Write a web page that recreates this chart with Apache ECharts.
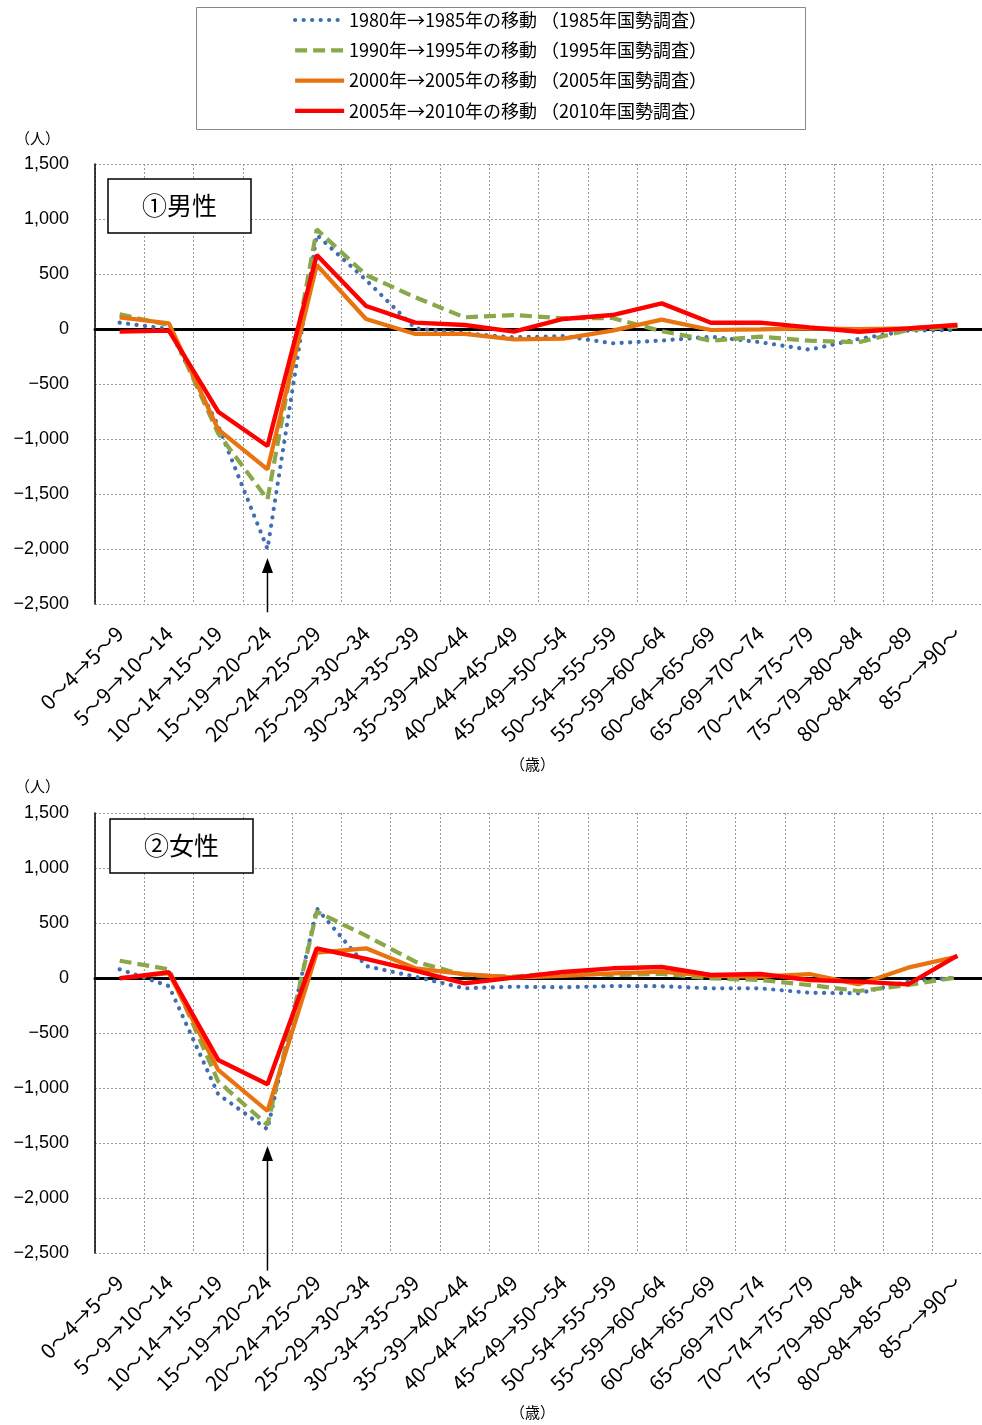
<!DOCTYPE html>
<html><head><meta charset="utf-8">
<script src="https://cdn.jsdelivr.net/npm/echarts@6/dist/echarts.min.js"></script>
<style>html,body{margin:0;padding:0;background:#fff}#c{width:982px;height:1425px}</style>
</head><body><div id="c"></div>
<script>
const categories = ["0～4→5～9","5～9→10～14","10～14→15～19","15～19→20～24","20～24→25～29","25～29→30～34","30～34→35～39","35～39→40～44","40～44→45～49","45～49→50～54","50～54→55～59","55～59→60～64","60～64→65～69","65～69→70～74","70～74→75～79","75～79→80～84","80～84→85～89","85～→90～"];
const seriesNames = ["1980年→1985年の移動 （1985年国勢調査）","1990年→1995年の移動 （1995年国勢調査）","2000年→2005年の移動 （2005年国勢調査）","2005年→2010年の移動 （2010年国勢調査）"];
const panelTitles = ["①男性","②女性"];
const yTicks = {min:-2500, max:1500, interval:500};

const male1985 = [58, 0, -880, -2000, 855, 445, 6, -39, -76, -64, -130, -105, -70, -120, -188, -90, -15, -9];
const male1995 = [133, 36, -950, -1548, 906, 491, 288, 106, 127, 97, 100, -20, -106, -70, -106, -121, -9, 21];
const male2005 = [106, 52, -912, -1276, 582, 91, -45, -45, -94, -88, -15, 85, -9, -3, 6, 0, 6, 36];
const male2010 = [-24, -15, -752, -1064, 673, 209, 58, 36, -24, 91, 127, 233, 57, 58, 15, -25, 6, 36];

const female1985 = [79, -73, -1057, -1376, 633, 109, 12, -94, -79, -85, -73, -75, -94, -94, -134, -139, -33, 6];
const female1995 = [157, 79, -940, -1336, 603, 385, 148, 27, 12, 48, 27, 38, -3, -18, -64, -118, -64, 6];
const female2005 = [0, 45, -836, -1209, 230, 270, 88, 36, 3, 18, 42, 57, 18, 12, 36, -58, 94, 195];
const female2010 = [-3, 52, -745, -966, 270, 173, 67, -48, 3, 55, 88, 100, 27, 36, -18, -33, -58, 203];

// arrow annotations: [category index, tail value, head value]
const arrowMale = [3, -2575, -2150];
const arrowFemale = [3, -2660, -1595];

const panels = [
  {data:[male1985, male1995, male2005, male2010], arrow: arrowMale},
  {data:[female1985, female1995, female2005, female2010], arrow: arrowFemale}
];

const lineStyles = [
  {color:'#3F6EB3', width:4.2, type:[0.1, 8.4], cap:'round'},
  {color:'#8AA84A', width:4.2, type:[12, 6], cap:'butt'},
  {color:'#E8730F', width:4.2, type:'solid'},
  {color:'#FF0000', width:4.4, type:'solid'}
];

const fmt = v => (v < 0 ? '\u2212' : '') + Math.abs(v).toLocaleString('en-US');
const jp = '"Noto Sans CJK JP", sans-serif';

const gridTops = [164, 813];
const grids = gridTops.map(t => ({left:95, top:t, width:895, height:440}));
const xAxes = [], yAxes = [], series = [];
gridTops.forEach((t, g) => {
  xAxes.push({
    gridIndex:g, type:'category', data:categories, boundaryGap:true, position:'bottom',
    axisLine:{show:false, onZero:false}, axisTick:{show:false},
    axisLabel:{rotate:45, margin:26, fontSize:20.5, fontFamily:jp, color:'#000', interval:0},
    splitLine:{show:true, interval:0, lineStyle:{color:'#999', width:1, type:[2,2]}}
  });
  xAxes.push({
    gridIndex:g, type:'category', data:categories, boundaryGap:true, position:'bottom',
    axisLine:{show:true, onZero:true, lineStyle:{color:'#000', width:3}},
    axisTick:{show:false}, axisLabel:{show:false}, splitLine:{show:false}
  });
  yAxes.push({
    gridIndex:g, type:'value', min:yTicks.min, max:yTicks.max, interval:yTicks.interval,
    axisLine:{show:true, lineStyle:{color:'#000', width:1.5}}, axisTick:{show:false},
    axisLabel:{formatter:fmt, fontSize:18, fontFamily:'"Liberation Sans", Arial, sans-serif', color:'#000', margin:26},
    splitLine:{show:true, lineStyle:{color:'#999', width:1, type:[2,2]}}
  });
  panels[g].data.forEach((arr, s) => {
    series.push({
      name:seriesNames[s], type:'line', xAxisIndex:g*2, yAxisIndex:g, data:arr,
      symbol:'none', showSymbol:false, lineStyle:lineStyles[s], itemStyle:{color:lineStyles[s].color},
      z:2+s, animation:false
    });
  });
  const a = panels[g].arrow;
  series.push({
    name:'arrow' + g, type:'line', xAxisIndex:g*2, yAxisIndex:g, clip:false, silent:true,
    data:[{value:[a[0], a[1]], symbol:'none'}, {value:[a[0], a[2]], symbol:'triangle', symbolSize:[11,15]}],
    showSymbol:true, showAllSymbol:true, symbol:'none',
    lineStyle:{color:'#000', width:1.5}, itemStyle:{color:'#000'}, z:10, animation:false
  });
});

const option = {
  animation:false,
  backgroundColor:'#fff',
  title: panelTitles.map((txt, g) => ({
    text:txt, left:[108,110][g], top:[179,819][g], padding:[14,34,15,34],
    borderColor:'#000', borderWidth:1.5, backgroundColor:'#fff',
    textStyle:{fontSize:25, fontWeight:'normal', fontFamily:jp, color:'#000'}
  })),
  legend:{
    left:293, top:11, orient:'vertical', itemWidth:49, itemHeight:18, itemGap:12.3, padding:0,
    itemStyle:{opacity:0, borderWidth:0},
    lineStyle:{width:4.2},
    textStyle:{fontSize:18, lineHeight:18, fontFamily:jp, color:'#000'},
    data:seriesNames
  },
  grid:grids, xAxis:xAxes, yAxis:yAxes, series:series,
  graphic:[
    {type:'rect', left:194, top:5, shape:{width:609, height:122}, style:{fill:null, stroke:'#888', lineWidth:1}, silent:true},
    {type:'text', left:15, top:131, style:{text:'（人）', font:'15px "Noto Sans CJK JP"', fill:'#000'}},
    {type:'text', left:15, top:779, style:{text:'（人）', font:'15px "Noto Sans CJK JP"', fill:'#000'}},
    {type:'text', left:510, top:757, style:{text:'（歳）', font:'15px "Noto Sans CJK JP"', fill:'#000'}},
    {type:'text', left:510, top:1405, style:{text:'（歳）', font:'15px "Noto Sans CJK JP"', fill:'#000'}}
  ]
};
const chart = echarts.init(document.getElementById('c'));
chart.setOption(option);
</script></body></html>
